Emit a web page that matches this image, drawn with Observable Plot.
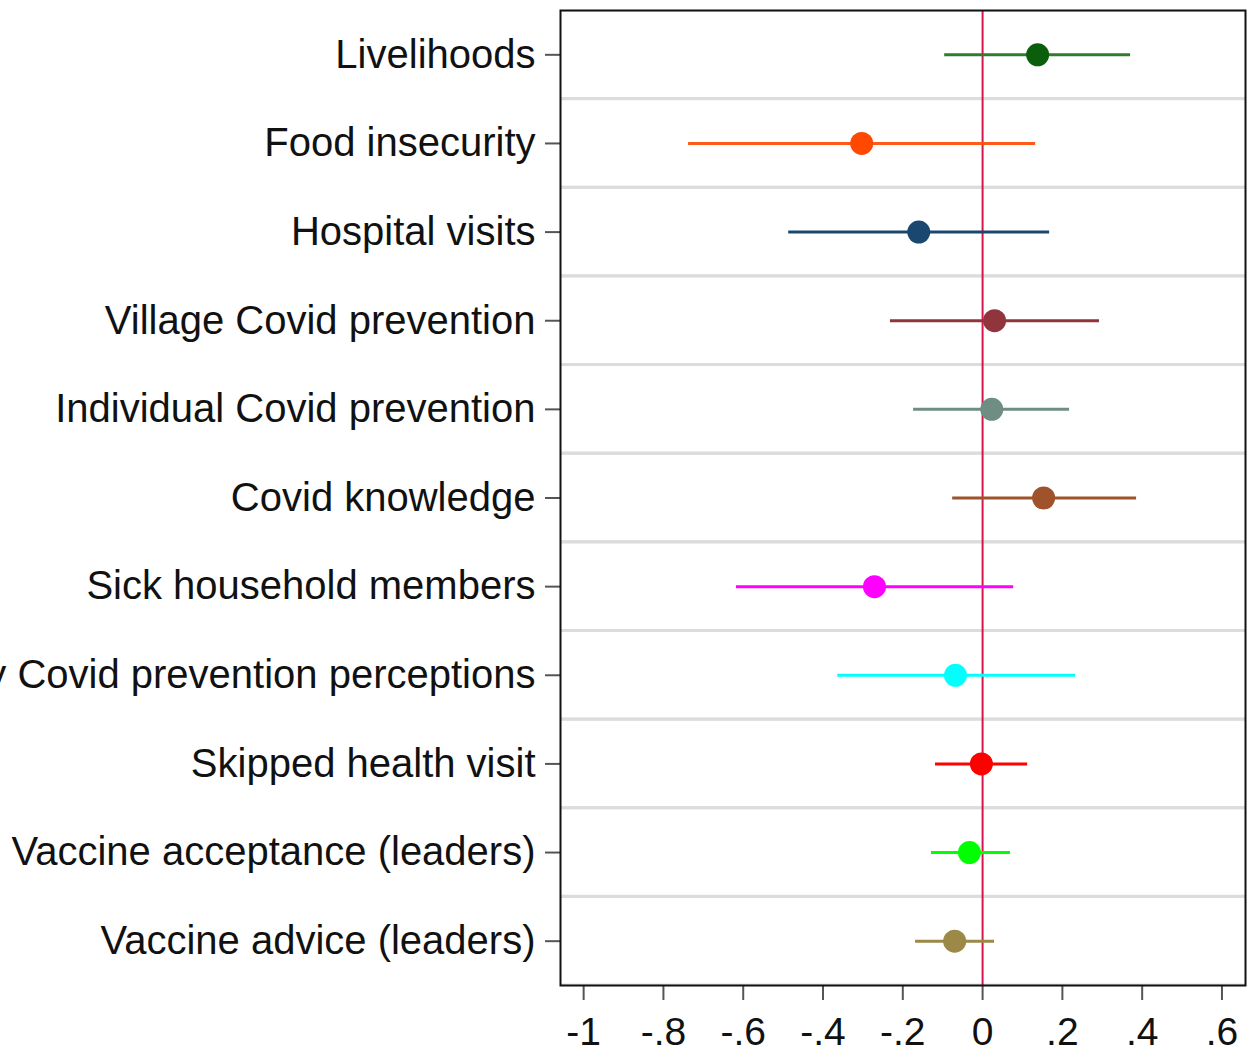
<!DOCTYPE html>
<html>
<head>
<meta charset="utf-8">
<script src="https://cdn.jsdelivr.net/npm/d3@7"></script>
<script src="https://cdn.jsdelivr.net/npm/@observablehq/plot@0.6"></script>
<style>
  html, body { margin: 0; padding: 0; background: white; }
  #chart svg { overflow: hidden; }
  #chart g[aria-label="x-axis tick"] path, #chart g[aria-label="y-axis tick"] path { stroke: #555; stroke-width: 2px; }
  #chart g[aria-label="y-axis tick label"] { font-size: 40px; }
  #chart g[aria-label="x-axis tick label"] { font-size: 39px; }
</style>
</head>
<body>
<div id="chart"></div>
<script>
const categories = [
  "Livelihoods",
  "Food insecurity",
  "Hospital visits",
  "Village Covid prevention",
  "Individual Covid prevention",
  "Covid knowledge",
  "Sick household members",
  "Community Covid prevention perceptions",
  "Skipped health visit",
  "Vaccine acceptance (leaders)",
  "Vaccine advice (leaders)"
];
const estimates = [0.138, -0.303, -0.160, 0.030, 0.023, 0.153, -0.271, -0.068, -0.003, -0.033, -0.070];
const lower     = [-0.095, -0.737, -0.486, -0.231, -0.173, -0.075, -0.617, -0.363, -0.118, -0.128, -0.168];
const upper     = [0.371, 0.133, 0.168, 0.293, 0.218, 0.386, 0.078, 0.233, 0.113, 0.070, 0.030];
const colors    = ["#0b5e0b", "#ff4800", "#1a476f", "#90353b", "#6e8e84", "#a0522d", "#ff00ff", "#00ffff", "#ff0000", "#00ff00", "#9c8847"];
const lineColors = ["#2e7d2e", "#ff5a1a", "#1a476f", "#90353b", "#6e8e84", "#a0522d", "#ff00ff", "#00ffff", "#ff0000", "#00ff00", "#9c8847"];
const tickValues = [-1, -0.8, -0.6, -0.4, -0.2, 0, 0.2, 0.4, 0.6];
const tickLabels = ["-1", "-.8", "-.6", "-.4", "-.2", "0", ".2", ".4", ".6"];
const xDomain = [-1.058, 0.659];

const rows = categories.map((c, i) => ({
  label: c, est: estimates[i], lo: lower[i], hi: upper[i], color: colors[i], lineColor: lineColors[i]
}));

const chart = Plot.plot({
  width: 1256,
  height: 1056,
  marginLeft: 560,
  marginRight: 11,
  marginTop: 10,
  marginBottom: 71,
  style: { fontFamily: "'Liberation Sans', Arial, sans-serif", fontSize: "40px", color: "#111", background: "white" },
  x: {
    domain: xDomain,
    ticks: tickValues,
    tickFormat: (d) => tickLabels[tickValues.indexOf(d)],
    tickSize: 15,
    tickPadding: 17,
    label: null
  },
  y: {
    domain: categories,
    padding: 0,
    round: false,
    tickSize: 15,
    tickPadding: 10,
    label: null
  },
  marks: [
    Plot.barX(rows, {
      y: "label", x1: () => xDomain[0] - 0.1, x2: () => xDomain[1] + 0.1,
      fill: "none", stroke: "#dcdcdc", strokeWidth: 3, clip: true
    }),
    Plot.ruleX([0], { stroke: "#d4174a", strokeWidth: 2 }),
    Plot.ruleY(rows, { y: "label", x1: "lo", x2: "hi", stroke: d => d.lineColor, strokeWidth: 3 }),
    Plot.dot(rows, { y: "label", x: "est", r: 11.5, fill: d => d.color, stroke: "none" }),
    Plot.frame({ stroke: "#111", strokeWidth: 2 })
  ]
});
document.getElementById("chart").appendChild(chart);
</script>
</body>
</html>
